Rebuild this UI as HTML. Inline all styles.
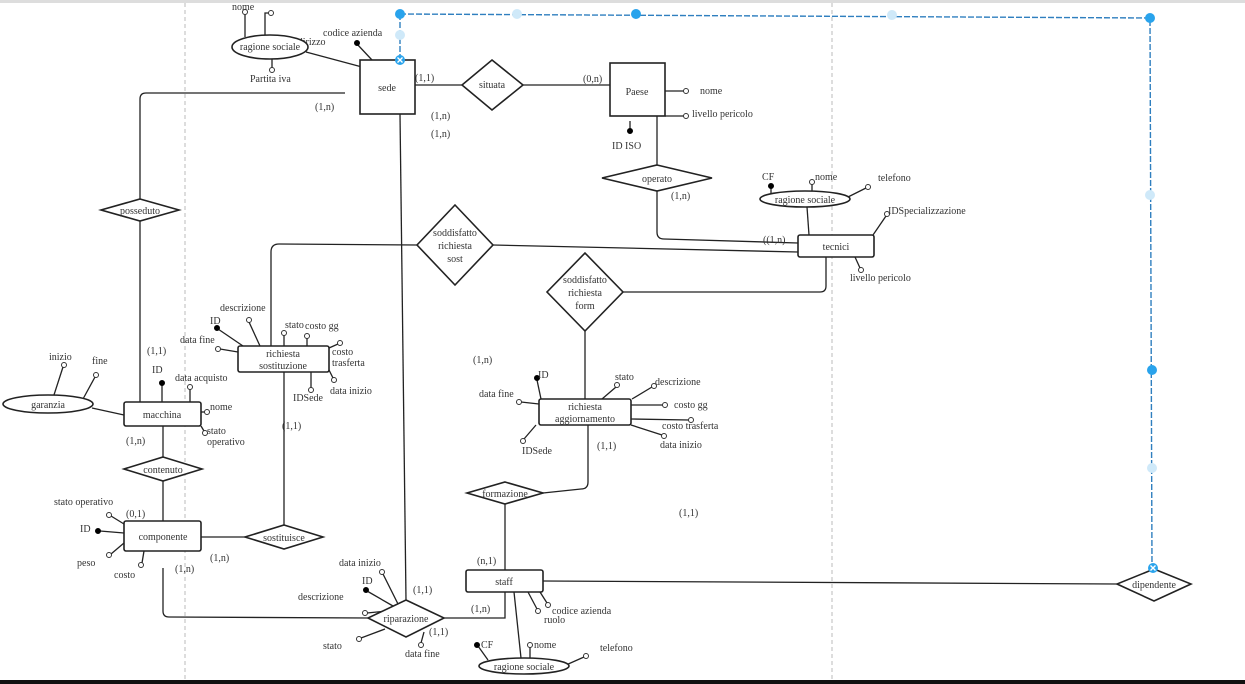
<!DOCTYPE html>
<html><head><meta charset="utf-8"><style>
html,body{margin:0;padding:0;background:#fff;}
svg{display:block;}
text{font-family:"Liberation Serif","DejaVu Serif",serif;font-size:10px;fill:#333;}
.t{font-size:10.5px;}
.c{text-anchor:middle;}
.e{fill:#fff;stroke:#222;stroke-width:1.6;}
.l{fill:none;stroke:#222;stroke-width:1.3;}
.o{fill:#fff;stroke:#333;stroke-width:1;}
.k{fill:#000;stroke:#000;stroke-width:1;}
</style></head><body>
<svg width="1245" height="684" viewBox="0 0 1245 684" xmlns="http://www.w3.org/2000/svg">
<rect x="0" y="0" width="1245" height="3" fill="#ddd"/>
<line x1="185" y1="3" x2="185" y2="680" stroke="#bbb" stroke-dasharray="4,3"/>
<line x1="832" y1="3" x2="832" y2="680" stroke="#bbb" stroke-dasharray="4,3"/>

<g class="l">
<path d="M345,93 H146 Q140,93 140,99 V199"/>
<path d="M140,221 V402"/>
<line x1="415" y1="85" x2="462" y2="85"/>
<line x1="523" y1="85" x2="610" y2="85"/>
<path d="M400,114 L406,600"/>
<path d="M271,346 V252 Q271,244 279,244 L417,245"/>
<path d="M493,245 L798,252"/>
<path d="M623,292 H820 Q826,292 826,286 V257"/>
<line x1="585" y1="331" x2="585" y2="399"/>
<path d="M588,425 V482 Q588,489 581,489 L543,493"/>
<line x1="505" y1="504" x2="505" y2="570"/>
<path d="M444,618 H505 V592"/>
<path d="M163,568 V611 Q163,617 169,617 L368,618"/>
<line x1="201" y1="537" x2="245" y2="537"/>
<line x1="284" y1="525" x2="284" y2="372"/>
<line x1="163" y1="426" x2="163" y2="457"/>
<line x1="163" y1="481" x2="163" y2="521"/>
<line x1="124" y1="415" x2="92" y2="408"/>
<line x1="657" y1="116" x2="657" y2="165"/>
<path d="M657,191 V232 Q657,239 664,239 L798,243"/>
<line x1="543" y1="581" x2="1117" y2="584"/>
<line x1="807" y1="207" x2="809" y2="235"/>
<line x1="306" y1="52" x2="362" y2="67"/>
</g>

<g stroke="#2f7fbf" stroke-width="1.4" fill="none" stroke-dasharray="6,2">
<path d="M400,14 L1150,18 L1152,567"/>
<line x1="400" y1="14" x2="400" y2="60"/>
</g>
<g fill="#29a3ec">
<circle cx="400" cy="14" r="5"/><circle cx="636" cy="14" r="5"/><circle cx="1150" cy="18" r="5"/><circle cx="1152" cy="370" r="5"/>
</g>
<g fill="#cfe9f9">
<circle cx="517" cy="14" r="5"/><circle cx="892" cy="15" r="5"/><circle cx="1150" cy="195" r="5"/><circle cx="1152" cy="468" r="5"/><circle cx="400" cy="35" r="5"/>
</g>

<g class="l" stroke-width="1.1">
<line x1="372" y1="60" x2="357" y2="44"/>
<line x1="245" y1="14" x2="245" y2="37"/>
<path d="M265,35 V13 H269"/>
<line x1="272" y1="58" x2="272" y2="68"/>
<line x1="665" y1="91" x2="684" y2="91"/>
<line x1="665" y1="116" x2="684" y2="116"/>
<line x1="630" y1="121" x2="630" y2="130"/>
<line x1="873" y1="235" x2="886" y2="216"/>
<line x1="855" y1="257" x2="860" y2="268"/>
<line x1="771" y1="188" x2="771" y2="196"/>
<line x1="812" y1="184" x2="812" y2="191"/>
<line x1="848" y1="197" x2="866" y2="188"/>
<line x1="243" y1="346" x2="218" y2="329"/>
<line x1="260" y1="346" x2="249" y2="322"/>
<line x1="238" y1="352" x2="220" y2="349"/>
<line x1="284" y1="346" x2="284" y2="335"/>
<line x1="307" y1="346" x2="307" y2="338"/>
<line x1="329" y1="348" x2="338" y2="344"/>
<line x1="329" y1="370" x2="333" y2="378"/>
<line x1="311" y1="372" x2="311" y2="388"/>
<line x1="162" y1="384" x2="162" y2="402"/>
<line x1="190" y1="389" x2="190" y2="402"/>
<line x1="201" y1="412" x2="205" y2="412"/>
<line x1="201" y1="426" x2="204" y2="431"/>
<line x1="53" y1="398" x2="63" y2="367"/>
<line x1="83" y1="399" x2="95" y2="377"/>
<line x1="124" y1="524" x2="111" y2="516"/>
<line x1="124" y1="533" x2="100" y2="531"/>
<line x1="124" y1="543" x2="111" y2="554"/>
<line x1="144" y1="551" x2="142" y2="563"/>
<line x1="541" y1="399" x2="537" y2="380"/>
<line x1="539" y1="404" x2="521" y2="402"/>
<line x1="536" y1="425" x2="524" y2="439"/>
<line x1="602" y1="399" x2="616" y2="387"/>
<line x1="632" y1="399" x2="652" y2="387"/>
<line x1="631" y1="405" x2="663" y2="405"/>
<line x1="631" y1="419" x2="689" y2="420"/>
<line x1="631" y1="425" x2="662" y2="435"/>
<line x1="540" y1="592" x2="547" y2="603"/>
<line x1="528" y1="592" x2="537" y2="609"/>
<line x1="514" y1="592" x2="521" y2="658"/>
<line x1="478" y1="646" x2="488" y2="660"/>
<line x1="530" y1="647" x2="530" y2="658"/>
<line x1="566" y1="665" x2="584" y2="657"/>
<line x1="398" y1="604" x2="383" y2="574"/>
<line x1="393" y1="606" x2="367" y2="591"/>
<line x1="387" y1="611" x2="367" y2="613"/>
<line x1="385" y1="629" x2="361" y2="638"/>
<line x1="424" y1="632" x2="421" y2="643"/>
</g>

<text x="290" y="45">indirizzo</text>
<ellipse class="e" cx="270" cy="47" rx="38" ry="12" stroke-width="1.3"/>
<ellipse class="e" cx="48" cy="404" rx="45" ry="9" stroke-width="1.3"/>
<ellipse class="e" cx="805" cy="199" rx="45" ry="8" stroke-width="1.3"/>
<ellipse class="e" cx="524" cy="666" rx="45" ry="8" stroke-width="1.3"/>

<rect class="e" x="360" y="60" width="55" height="54"/>
<rect class="e" x="610" y="63" width="55" height="53"/>
<rect class="e" x="798" y="235" width="76" height="22" rx="2"/>
<rect class="e" x="238" y="346" width="91" height="26" rx="2"/>
<rect class="e" x="124" y="402" width="77" height="24" rx="2"/>
<rect class="e" x="124" y="521" width="77" height="30" rx="2"/>
<rect class="e" x="539" y="399" width="92" height="26" rx="2"/>
<rect class="e" x="466" y="570" width="77" height="22" rx="2"/>

<g class="e">
<polygon points="492,60 523,85 492,110 462,85"/>
<polygon points="140,199 179,210 140,221 101,210"/>
<polygon points="163,457 202,469 163,481 124,469"/>
<polygon points="284,525 323,537 284,549 245,537"/>
<polygon points="455,205 493,245 455,285 417,245"/>
<polygon points="585,253 623,292 585,331 547,292"/>
<polygon points="657,165 712,178 657,191 602,178"/>
<polygon points="505,482 543,493 505,504 467,493"/>
<polygon points="406,600 444,618 406,637 368,618"/>
<polygon points="1154,569 1191,584 1154,601 1117,584"/>
</g>

<g class="o">
<circle cx="245" cy="12" r="2.5"/><circle cx="271" cy="13" r="2.5"/><circle cx="272" cy="70" r="2.5"/>
<circle cx="686" cy="91" r="2.5"/><circle cx="686" cy="116" r="2.5"/>
<circle cx="887" cy="214" r="2.5"/><circle cx="861" cy="270" r="2.5"/><circle cx="812" cy="182" r="2.5"/><circle cx="868" cy="187" r="2.5"/>
<circle cx="249" cy="320" r="2.5"/><circle cx="218" cy="349" r="2.5"/><circle cx="284" cy="333" r="2.5"/><circle cx="307" cy="336" r="2.5"/><circle cx="340" cy="343" r="2.5"/><circle cx="334" cy="380" r="2.5"/><circle cx="311" cy="390" r="2.5"/>
<circle cx="190" cy="387" r="2.5"/><circle cx="207" cy="412" r="2.5"/><circle cx="205" cy="433" r="2.5"/>
<circle cx="64" cy="365" r="2.5"/><circle cx="96" cy="375" r="2.5"/>
<circle cx="109" cy="515" r="2.5"/><circle cx="109" cy="555" r="2.5"/><circle cx="141" cy="565" r="2.5"/>
<circle cx="519" cy="402" r="2.5"/><circle cx="523" cy="441" r="2.5"/><circle cx="617" cy="385" r="2.5"/><circle cx="654" cy="386" r="2.5"/><circle cx="665" cy="405" r="2.5"/><circle cx="691" cy="420" r="2.5"/><circle cx="664" cy="436" r="2.5"/>
<circle cx="548" cy="605" r="2.5"/><circle cx="538" cy="611" r="2.5"/><circle cx="530" cy="645" r="2.5"/><circle cx="586" cy="656" r="2.5"/>
<circle cx="382" cy="572" r="2.5"/><circle cx="365" cy="613" r="2.5"/><circle cx="359" cy="639" r="2.5"/><circle cx="421" cy="645" r="2.5"/>
</g>
<g class="k">
<circle cx="357" cy="43" r="2.5"/><circle cx="630" cy="131" r="2.5"/><circle cx="771" cy="186" r="2.5"/><circle cx="217" cy="328" r="2.5"/><circle cx="162" cy="383" r="2.5"/><circle cx="98" cy="531" r="2.5"/><circle cx="537" cy="378" r="2.5"/><circle cx="477" cy="645" r="2.5"/><circle cx="366" cy="590" r="2.5"/>
</g>

<g>
<circle cx="400" cy="60" r="5" fill="#29a3ec"/><path d="M397.5,57.5 L402.5,62.5 M402.5,57.5 L397.5,62.5" stroke="#fff" stroke-width="1.4"/>
<circle cx="1153" cy="568" r="5" fill="#29a3ec"/><path d="M1150.5,565.5 L1155.5,570.5 M1155.5,565.5 L1150.5,570.5" stroke="#fff" stroke-width="1.4"/>
</g>

<g class="t c">
<text x="387" y="91">sede</text>
<text x="637" y="95">Paese</text>
<text x="492" y="88">situata</text>
<text x="140" y="214">posseduto</text>
<text x="163" y="473">contenuto</text>
<text x="284" y="541">sostituisce</text>
<text x="455" y="236">soddisfatto</text><text x="455" y="249">richiesta</text><text x="455" y="262">sost</text>
<text x="585" y="283">soddisfatto</text><text x="585" y="296">richiesta</text><text x="585" y="309">form</text>
<text x="657" y="182">operato</text>
<text x="505" y="497">formazione</text>
<text x="406" y="622">riparazione</text>
<text x="1154" y="588">dipendente</text>
<text x="836" y="250">tecnici</text>
<text x="283" y="357">richiesta</text><text x="283" y="369">sostituzione</text>
<text x="162" y="418">macchina</text>
<text x="163" y="540">componente</text>
<text x="585" y="410">richiesta</text><text x="585" y="422">aggiornamento</text>
<text x="504" y="585">staff</text>
</g>
<g class="c">
<text x="270" y="50">ragione sociale</text>
<text x="48" y="408">garanzia</text>
<text x="805" y="203">ragione sociale</text>
<text x="524" y="670">ragione sociale</text>
</g>

<text x="232" y="10">nome</text>
<text x="323" y="36">codice azienda</text>
<text x="250" y="82">Partita iva</text>
<text x="700" y="94">nome</text>
<text x="692" y="117">livello pericolo</text>
<text x="612" y="149">ID ISO</text>
<text x="888" y="214">IDSpecializzazione</text>
<text x="850" y="281">livello pericolo</text>
<text x="762" y="180">CF</text>
<text x="815" y="180">nome</text>
<text x="878" y="181">telefono</text>
<text x="220" y="311">descrizione</text>
<text x="210" y="324">ID</text>
<text x="180" y="343">data fine</text>
<text x="285" y="328">stato</text>
<text x="305" y="329">costo gg</text>
<text x="332" y="355">costo</text><text x="332" y="366">trasferta</text>
<text x="330" y="394">data inizio</text>
<text x="293" y="401">IDSede</text>
<text x="152" y="373">ID</text>
<text x="175" y="381">data acquisto</text>
<text x="210" y="410">nome</text>
<text x="207" y="434">stato</text><text x="207" y="445">operativo</text>
<text x="49" y="360">inizio</text>
<text x="92" y="364">fine</text>
<text x="54" y="505">stato operativo</text>
<text x="80" y="532">ID</text>
<text x="77" y="566">peso</text>
<text x="114" y="578">costo</text>
<text x="538" y="378">ID</text>
<text x="479" y="397">data fine</text>
<text x="522" y="454">IDSede</text>
<text x="615" y="380">stato</text>
<text x="655" y="385">descrizione</text>
<text x="674" y="408">costo gg</text>
<text x="662" y="429">costo trasferta</text>
<text x="660" y="448">data inizio</text>
<text x="552" y="614">codice azienda</text>
<text x="544" y="623">ruolo</text>
<text x="481" y="648">CF</text>
<text x="534" y="648">nome</text>
<text x="600" y="651">telefono</text>
<text x="339" y="566">data inizio</text>
<text x="362" y="584">ID</text>
<text x="298" y="600">descrizione</text>
<text x="323" y="649">stato</text>
<text x="405" y="657">data fine</text>

<text x="415" y="81">(1,1)</text>
<text x="583" y="82">(0,n)</text>
<text x="315" y="110">(1,n)</text>
<text x="431" y="119">(1,n)</text>
<text x="431" y="137">(1,n)</text>
<text x="671" y="199">(1,n)</text>
<text x="763" y="243">((1,n)</text>
<text x="147" y="354">(1,1)</text>
<text x="126" y="444">(1,n)</text>
<text x="126" y="517">(0,1)</text>
<text x="282" y="429">(1,1)</text>
<text x="210" y="561">(1,n)</text>
<text x="175" y="572">(1,n)</text>
<text x="473" y="363">(1,n)</text>
<text x="597" y="449">(1,1)</text>
<text x="679" y="516">(1,1)</text>
<text x="477" y="564">(n,1)</text>
<text x="413" y="593">(1,1)</text>
<text x="471" y="612">(1,n)</text>
<text x="429" y="635">(1,1)</text>

<rect x="0" y="680" width="1245" height="4" fill="#111"/>
</svg>
</body></html>
